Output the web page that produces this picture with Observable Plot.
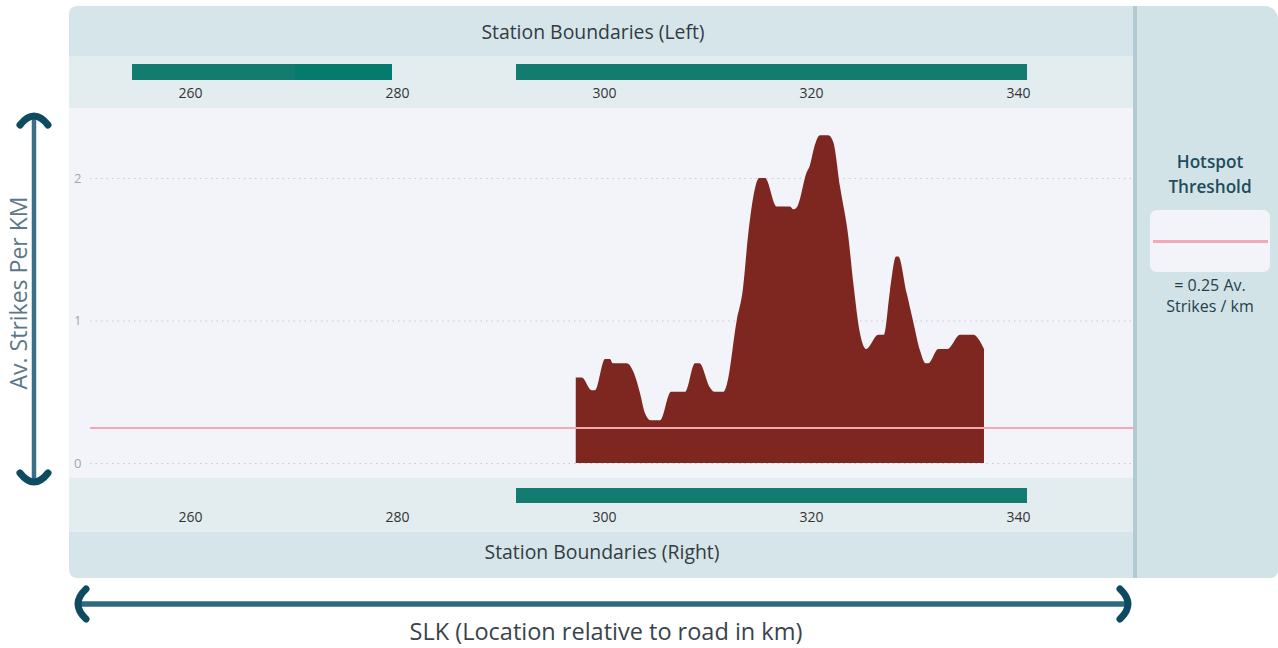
<!DOCTYPE html>
<html><head><meta charset="utf-8">
<script src="https://cdn.jsdelivr.net/npm/d3@7"></script>
<script src="https://cdn.jsdelivr.net/npm/@observablehq/plot@0.6"></script>
<style>
body{margin:0;background:#fff;font-family:"Segoe UI","Open Sans","Noto Sans",sans-serif;}
#wrap{position:relative;width:1278px;height:648px;overflow:hidden;}
.abs{position:absolute;}
.hdr{color:#343b41;font-size:19.4px;text-align:center;height:40px;line-height:40px;white-space:nowrap;}
</style></head><body>
<div id="wrap">
  <div class="abs" style="left:69px;top:6px;width:1209px;height:572px;background:#d6e5ea;border-radius:8px 14px 8px 8px;"></div>
  <div class="abs" style="left:1137px;top:6px;width:141px;height:572px;background:#d2e3e8;border-radius:0 14px 8px 0;"></div>
  <div class="abs" style="left:1133px;top:6px;width:4px;height:572px;background:#b2cbd3;"></div>
  <div class="abs" style="left:69px;top:56px;width:1064px;height:52px;background:#e3edf0;"></div>
  <div class="abs" style="left:69px;top:108px;width:1064px;height:370px;background:#f2f4f9;"></div>
  <div class="abs" style="left:69px;top:478px;width:1064px;height:54px;background:#e3edf0;"></div>
  <div class="abs hdr" id="topHdr" style="left:393px;top:12px;width:400px;"></div>
  <div class="abs hdr" id="botHdr" style="left:402px;top:532px;width:400px;"></div>
  <div class="abs" id="topStrip" style="left:0;top:56px;"></div>
  <div class="abs" id="main" style="left:0;top:108px;"></div>
  <div class="abs" id="botStrip" style="left:0;top:478px;"></div>
  <svg class="abs" style="left:0;top:0" width="1278" height="648">
    <line x1="76" y1="604" x2="1130" y2="604" stroke="#2f6a81" stroke-width="5.5"/>
    <path d="M86,589 Q70,604 86,619" fill="none" stroke="#0e4a60" stroke-width="7" stroke-linecap="round"/>
    <path d="M1120,589 Q1136,604 1120,619" fill="none" stroke="#0e4a60" stroke-width="7" stroke-linecap="round"/>
    <line x1="34" y1="116" x2="34" y2="482" stroke="#3b6f86" stroke-width="4.5"/>
    <path d="M20,125 Q34,107 48,125" fill="none" stroke="#0e4a60" stroke-width="7" stroke-linecap="round"/>
    <path d="M20,473 Q34,491 48,473" fill="none" stroke="#0e4a60" stroke-width="7" stroke-linecap="round"/>
  </svg>
  <div class="abs" id="yLabel" style="left:18px;top:293px;transform:translate(-50%,-50%) rotate(-90deg);white-space:nowrap;font-size:23px;color:#5b7888;"></div>
  <div class="abs" id="xLabel" style="left:306px;top:615px;width:600px;text-align:center;font-size:23.5px;color:#39444c;white-space:nowrap;"></div>
  <div class="abs" id="legTitle" style="left:1137px;top:149px;width:146px;text-align:center;font-size:17.2px;font-weight:600;line-height:25px;color:#1f4c5d;"></div>
  <div class="abs" style="left:1150px;top:210px;width:120px;height:62px;background:#f2f4f9;border-radius:7px;"></div>
  <div class="abs" style="left:1153px;top:240px;width:115px;height:3px;background:#f2a9b1;"></div>
  <div class="abs" id="legText" style="left:1137px;top:275px;width:146px;text-align:center;font-size:16px;line-height:21px;color:#263f4b;"></div>
</div>
<script>
// ---- data ----
const slk = [297.27,297.85,298.81,299.13,300.10,300.58,300.84,302.19,302.90,303.48,303.96,304.51,305.41,306.47,307.83,308.79,309.21,310.24,310.63,311.53,311.86,312.82,313.40,313.94,314.43,315.00,315.56,316.69,317.97,318.29,318.68,319.58,319.90,320.29,320.87,321.67,322.16,322.80,323.60,324.09,324.73,325.31,326.50,327.05,327.63,328.21,328.43,329.25,329.88,330.53,331.08,331.33,332.30,333.17,334.40,335.68,336.71];
const strikes = [0.60,0.60,0.51,0.51,0.73,0.73,0.70,0.70,0.63,0.49,0.35,0.30,0.30,0.50,0.50,0.70,0.70,0.53,0.50,0.50,0.55,1.00,1.21,1.61,1.87,2.00,2.00,1.80,1.80,1.78,1.80,2.04,2.09,2.21,2.30,2.30,2.25,1.94,1.59,1.26,0.91,0.80,0.90,0.90,1.21,1.45,1.45,1.19,0.99,0.79,0.70,0.70,0.80,0.80,0.90,0.90,0.80];
const threshold = 0.25;
const leftStart = [254.4, 270.1, 291.5];
const leftEnd   = [270.1, 279.5, 340.9];
const rightStart = [291.5];
const rightEnd   = [340.9];
const xTicks = [260, 280, 300, 320, 340];
const yTicks = [0, 1, 2];
const texts = {
  topHdr: "Station Boundaries (Left)",
  botHdr: "Station Boundaries (Right)",
  yLabel: "Av. Strikes Per KM",
  xLabel: "SLK (Location relative to road in km)",
  legTitle: "Hotspot<br>Threshold",
  legText: "= 0.25 Av.<br>Strikes / km"
};
for (const k in texts) document.getElementById(k).innerHTML = texts[k];

const xDomain = [250.34, 351.3];
const FONT = '"Segoe UI","Open Sans","Noto Sans",sans-serif';
const series = slk.map((x, i) => ({slk: x, v: strikes[i]}));
const leftSt = leftStart.map((s, i) => ({start: s, end: leftEnd[i], idx: i}));
const rightSt = rightStart.map((s, i) => ({start: s, end: rightEnd[i], idx: i}));

function strip(data, h, mt, mb, pad) {
  return Plot.plot({
    width: 1278, height: h, marginLeft: 90, marginRight: 143, marginTop: mt, marginBottom: mb,
    x: {domain: xDomain},
    style: {background: "transparent", fontSize: "14px", color: "#333", fontFamily: FONT},
    marks: [
      Plot.barX(data, {x1: "start", x2: "end", shapeRendering: "crispEdges",
        fill: d => d.idx === 1 && data.length > 1 ? "#047b6c" : "#137b70"}),
      Plot.axisX({ticks: xTicks, tickSize: 0, tickPadding: pad, label: null})
    ]
  });
}
document.getElementById("topStrip").append(strip(leftSt, 52, 8, 28, 8));
document.getElementById("botStrip").append(strip(rightSt, 54, 10, 29, 9));

const main = Plot.plot({
  width: 1278, height: 370, marginLeft: 90, marginRight: 143, marginTop: 13, marginBottom: 15,
  x: {domain: xDomain, axis: null},
  y: {domain: [0, 2.4]},
  style: {background: "transparent", fontSize: "13px", color: "#9ea8b3", fontFamily: FONT},
  marks: [
    Plot.gridY(yTicks, {stroke: "#c3c9d2", strokeOpacity: 1, strokeDasharray: "1.5,4"}),
    Plot.areaY(series, {x: "slk", y: "v", fill: "#7e2721", curve: "monotone-x"}),
    Plot.ruleY([threshold], {stroke: "#f2a9b1", strokeWidth: 2}),
    Plot.axisY({ticks: yTicks, tickSize: 0, tickPadding: 9, label: null, tickFormat: d3.format("d")})
  ]
});
document.getElementById("main").append(main);
</script>
</body></html>
